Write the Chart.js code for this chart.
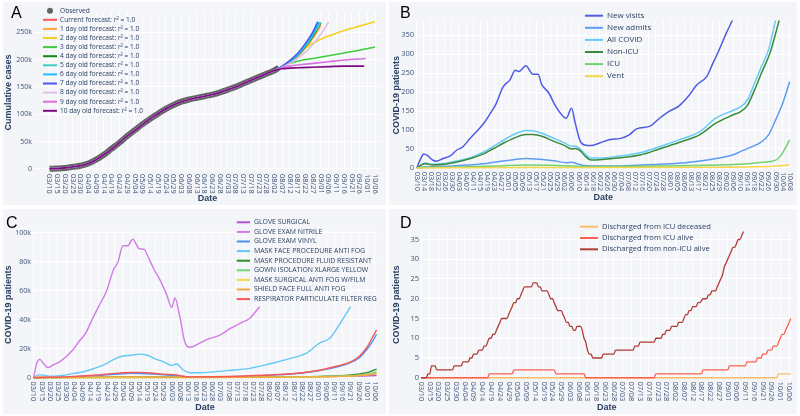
<!DOCTYPE html>
<html>
<head>
<meta charset="utf-8">
<script src="https://cdn.jsdelivr.net/npm/chart.js@4.4.1/dist/chart.umd.min.js"></script>
<style>
  body { margin: 0; width: 800px; height: 416px; background: #fff; position: relative; overflow: hidden; }
  .panel { position: absolute; background: #f3f5f9; }
  .panel canvas { position: absolute; left: 0; top: 0; }
  .tag { position: absolute; font: 16px/16px "Liberation Sans", Arial, sans-serif; color: #000; }
</style>
</head>
<body>
<div class="panel" style="left:3px;top:2px;width:383px;height:203px"><canvas id="chartA" width="383" height="203"></canvas></div>
<div class="panel" style="left:389px;top:2px;width:408px;height:203px"><canvas id="chartB" width="408" height="203"></canvas></div>
<div class="panel" style="left:3px;top:209px;width:383px;height:205px"><canvas id="chartC" width="383" height="205"></canvas></div>
<div class="panel" style="left:389px;top:209px;width:408px;height:205px"><canvas id="chartD" width="408" height="205"></canvas></div>
<div class="tag" style="left:11px;top:5px">A</div>
<div class="tag" style="left:400px;top:5px">B</div>
<div class="tag" style="left:6px;top:215px">C</div>
<div class="tag" style="left:400px;top:215px">D</div>

<script>
// x values are days counted from 03/10
const labels5 = ['03/10','03/15','03/20','03/25','03/30','04/04','04/09','04/14','04/19','04/24','04/29','05/04','05/09','05/14','05/19','05/24','05/29','06/03','06/08','06/13','06/18','06/23','06/28','07/03','07/08','07/13','07/18','07/23','07/28','08/02','08/07','08/12','08/17','08/22','08/27','09/01','09/06','09/11','09/16','09/21','09/26','10/01','10/06'];
const labels4 = ['03/10','03/14','03/18','03/22','03/26','03/30','04/03','04/07','04/11','04/15','04/19','04/23','04/27','05/01','05/05','05/09','05/13','05/17','05/21','05/25','05/29','06/02','06/06','06/10','06/14','06/18','06/22','06/26','06/30','07/04','07/08','07/12','07/16','07/20','07/24','07/28','08/01','08/05','08/09','08/13','08/17','08/21','08/25','08/29','09/02','09/06','09/10','09/14','09/18','09/22','09/26','09/30','10/04','10/08'];

// --- A: cumulative cases (thousands)
const observed = [[0,0.4],[5,1],[10,2],[15,4],[20,6],[25,10],[30,17],[35,26],[40,37],[45,48],[50,60],[55,71],[60,82],[65,92],[70,101],[75,110],[80,117],[85,123],[90,127],[95,130],[100,133],[105,136],[110,140],[115,145],[120,150],[125,156],[130,162],[135,168],[140,174],[145,180],[148,185]];
const fitBase = [[0,0.5],[5,1],[10,2],[15,4],[20,6],[25,10],[30,17],[35,26],[40,36],[45,48],[50,60],[55,70],[60,81],[65,92],[70,101],[75,110],[80,117],[85,123],[90,127],[95,130],[100,133],[105,136],[110,140],[115,145],[120,150],[125,156],[130,162],[135,168],[140,174],[145,180]];
const tailCurrent = [[150,187],[155,196],[160,207],[165,222],[170,241],[175,266]];
const tail1 = [[150,187],[155,195],[160,206],[165,220],[170,239],[175,262]];
const tail2 = [[150,187],[155,198],[160,210],[165,221],[170,230],[175,237],[180,243],[185,248],[190,253],[195,257],[200,261],[205,265],[210,269]];
const tail3 = [[150,186],[155,193],[160,197],[170,202],[180,207],[190,212],[200,217],[210,223]];
const tail4 = [[150,187],[155,196],[160,207],[165,223],[170,243],[175,267]];
const tail5 = [[150,187],[155,196],[160,208],[165,224],[170,245],[175,268]];
const tail6 = [[150,187],[155,197],[160,209],[165,226],[170,247],[174,269]];
const tail7 = [[150,188],[155,198],[160,211],[165,229],[170,251],[173,269]];
const tail8 = [[150,186],[155,193],[160,202],[165,213],[170,228],[175,246],[180,268]];
const tail9 = [[150,185],[155,188],[160,190],[170,193],[180,196],[190,199],[204,202]];
const tail10 = [[150,183],[160,185],[170,186],[180,187],[190,188],[203,188]];
const casesTicks = [0, 50, 100, 150, 200, 250];

// --- B: COVID-19 patients
const newVisits = [[0,0],[2,22],[4,37],[6,33],[9,21],[11,18],[15,25],[19,32],[23,48],[26,55],[30,76],[34,96],[38,117],[42,145],[45,168],[49,213],[53,232],[56,257],[58,254],[62,269],[66,247],[69,247],[71,220],[75,198],[79,162],[83,137],[85,131],[88,157],[90,120],[93,70],[96,60],[99,59],[104,66],[110,75],[116,78],[121,88],[125,103],[133,111],[138,131],[143,148],[149,163],[155,192],[159,218],[165,242],[168,272],[172,312],[176,355],[180,395],[182,420]];
const newAdmits = [[0,0],[5,3],[10,4],[20,5],[30,8],[38,11],[45,16],[55,22],[62,25],[70,23],[78,19],[85,14],[88,15],[90,13],[94,7],[100,5],[110,5],[125,7],[144,11],[155,15],[168,23],[180,35],[184,43],[190,55],[196,69],[200,87],[204,126],[208,170],[212,227]];
const allCovid = [[0,0],[3,10],[5,13],[9,10],[14,11],[20,16],[26,22],[32,30],[38,42],[44,58],[50,75],[56,90],[62,99],[66,98],[72,90],[78,78],[84,66],[88,57],[90,58],[93,50],[96,35],[99,26],[104,26],[116,32],[127,40],[138,56],[149,74],[161,96],[170,131],[180,152],[184,161],[188,179],[192,223],[196,267],[200,311],[204,388],[206,420]];
const nonIcu = [[0,0],[3,9],[5,11],[9,8],[14,9],[20,13],[26,19],[32,27],[38,37],[44,52],[50,67],[56,80],[62,88],[66,88],[72,82],[78,70],[84,59],[88,50],[90,51],[93,45],[96,30],[99,21],[104,22],[116,27],[127,34],[138,50],[149,67],[161,88],[170,118],[180,140],[184,148],[188,165],[192,205],[196,250],[201,305],[206,388],[208,420]];
const icu = [[0,0],[5,2],[15,2],[30,3],[45,5],[62,8],[75,7],[88,5],[95,4],[110,4],[140,5],[165,7],[180,9],[190,12],[197,15],[202,18],[205,23],[208,40],[212,74]];
const vent = [[0,0],[60,1],[100,1],[170,2],[195,3],[205,5],[212,8]];
const patientTicksB = [0, 50, 100, 150, 200, 250, 300, 350];

// --- C: supplies (thousands)
const gloveSurgical = [[0,0.2],[100,0.4],[180,0.8],[211,1.5]];
const gloveNitrile = [[0,0],[2,10],[4,12.7],[6,10],[9,7],[12,8.8],[16,11],[20,14.5],[24,19],[28,25],[32,30.6],[36,40],[40,49],[45,60],[49,74],[52,80],[55,91],[58,91],[61,95.6],[65,89],[68,88.5],[71,82],[74,75],[78,67],[82,57],[85,48.5],[87,55],[90,42],[93,25],[96,21],[102,23.7],[108,27],[114,29],[121,34],[127,37.5],[133,41],[139,49]];
const gloveVinyl = [[0,0],[10,0.3],[20,0.5],[30,1],[40,1.6],[50,2.4],[60,3],[70,2.8],[80,2],[90,1.3],[96,0.5],[110,0.6],[130,1],[150,2],[165,3.3],[175,4.8],[185,7],[195,10.5],[200,13.5],[205,19.5],[209,26],[211,30]];
const maskFace = [[0,0],[3,2],[6,1.8],[10,1],[15,1.2],[20,2],[25,3],[30,4],[35,5.5],[40,7.5],[45,10],[50,13],[55,15],[60,15.5],[65,16.3],[70,15.5],[75,13],[80,11],[85,8.5],[88,9.5],[92,5.5],[96,3.5],[102,3.5],[110,4],[120,5],[133,6.5],[145,9.5],[158,13.4],[168,17],[176,24],[182,27],[186,33],[190,40],[195,49]];
const maskFluid = [[0,0],[50,0.3],[100,0.3],[150,0.5],[180,1],[195,2],[205,3.5],[211,6]];
const gownXL = [[0,0],[60,0.2],[150,0.4],[190,1.2],[205,2.5],[211,4]];
const maskSurgical = [[0,0],[100,0.2],[180,0.6],[200,1.5],[211,2.8]];
const shieldFace = [[0,0.3],[60,0.5],[100,0.3],[150,0.4],[180,0.8],[200,1.5],[211,2.6]];
const respirator = [[0,0],[10,0.3],[20,0.6],[30,1.2],[40,2],[50,3],[60,3.6],[65,3.7],[70,3.5],[80,2.5],[88,2],[92,1],[96,0.6],[110,0.7],[130,1.2],[150,2.2],[165,3.5],[175,5],[185,7.6],[190,9],[195,11],[200,14.5],[205,21],[209,29],[211,33]];
const supplyTicks = [0, 20, 40, 60, 80, 100];

// --- D: discharges
const icuDeceased = [[0,0],[203,0],[204,1],[211,1]];
const icuAlive = [[0,0],[38,0],[39,1],[52,1],[53,2],[76,2],[77,1],[93,1],[94,0],[133,0],[134,1],[160,1],[161,2],[175,2],[176,3],[185,3],[186,4],[191,4],[192,5],[194,5],[195,6],[197,6],[198,7],[200,7],[201,8],[203,8],[204,9],[205,10],[206,11],[207,11],[208,12],[209,13],[210,14],[211,15]];
const nonIcuAlive = [[0,0],[3,0],[4,1],[5,1],[6,3],[8,3],[9,2],[18,2],[19,3],[23,3],[24,4],[27,4],[28,5],[29,5],[30,6],[32,6],[33,7],[35,7],[36,8],[37,8],[38,9],[39,10],[40,10],[41,11],[42,11],[43,12],[44,13],[45,14],[46,15],[49,15],[50,16],[51,17],[52,18],[53,19],[54,19],[55,20],[56,20],[57,21],[58,22],[59,23],[63,23],[64,24],[66,24],[67,23],[68,23],[69,22],[72,22],[73,21],[74,20],[75,20],[76,19],[77,18],[78,17],[80,17],[81,16],[82,15],[83,14],[84,14],[85,13],[86,13],[87,12],[88,12],[89,13],[91,13],[92,12],[93,10],[94,9],[95,7],[96,6],[97,6],[98,5],[103,5],[104,6],[110,6],[111,7],[121,7],[122,8],[124,8],[125,9],[133,9],[134,10],[137,10],[138,11],[139,11],[140,12],[142,12],[143,13],[146,13],[147,14],[149,14],[150,15],[151,16],[152,16],[153,17],[154,17],[155,18],[157,18],[158,19],[159,19],[161,20],[163,20],[164,21],[165,21],[166,22],[168,22],[169,23],[170,24],[171,25],[172,26],[173,28],[174,29],[175,30],[176,31],[177,32],[178,33],[179,33],[180,34],[181,35],[182,35],[183,36],[184,37]];
const dischargeTicks = [0, 5, 10, 15, 20, 25, 30, 35];

const titleColor = '#2a3f5f';
const tickColor = '#3f5375';
const fontFam = '"Open Sans", "Liberation Sans", sans-serif';

// rotated date labels (reading downward) + legend drawn inside the plot
const panelDecor = {
  id: 'panelDecor',
  afterDraw(chart, args, opts) {
    const ctx = chart.ctx;
    const area = chart.chartArea;
    const xs = chart.scales.x;
    ctx.save();
    ctx.fillStyle = tickColor;
    ctx.font = opts.tickFont;
    ctx.textAlign = 'left';
    ctx.textBaseline = 'middle';
    opts.labels.forEach((text, i) => {
      ctx.save();
      ctx.translate(xs.getPixelForValue(i * opts.step), area.bottom + 2);
      ctx.rotate(Math.PI / 2);
      ctx.fillText(text, 0, 0);
      ctx.restore();
    });

    const lg = opts.legend;
    ctx.font = lg.font;
    chart.data.datasets.forEach((ds, i) => {
      const y = lg.y + i * lg.step;
      if (ds.legendDot) {
        ctx.fillStyle = ds.borderColor;
        ctx.beginPath();
        ctx.arc(lg.x + lg.len / 2, y, 3, 0, Math.PI * 2);
        ctx.fill();
      } else {
        ctx.strokeStyle = ds.borderColor;
        ctx.lineWidth = 2;
        ctx.beginPath();
        ctx.moveTo(lg.x, y);
        ctx.lineTo(lg.x + lg.len, y);
        ctx.stroke();
      }
      ctx.fillStyle = titleColor;
      ctx.fillText(ds.label, lg.x + lg.len + lg.gap, y);
    });
    ctx.restore();
  }
};

function series(label, color, pts, width, extra) {
  return Object.assign({
    label: label,
    borderColor: color,
    backgroundColor: color,
    data: pts.map(p => ({ x: p[0], y: p[1] })),
    borderWidth: width,
    pointRadius: 0,
    fill: false,
    tension: 0.4,
    cubicInterpolationMode: 'monotone'
  }, extra || {});
}

function makeChart(id, cfg) {
  // later traces on top, like the original
  cfg.datasets.forEach((d, i) => { d.order = -i; });
  return new Chart(document.getElementById(id), {
    type: 'line',
    data: { datasets: cfg.datasets },
    options: {
      responsive: false,
      animation: false,
      events: [],
      layout: { padding: cfg.padding },
      plugins: {
        legend: { display: false },
        tooltip: { enabled: false },
        panelDecor: cfg.decor
      },
      scales: {
        x: {
          type: 'linear',
          min: cfg.xRange[0],
          max: cfg.xRange[1],
          grid: { color: '#ffffff', lineWidth: 1, drawTicks: false },
          border: { display: false },
          ticks: { display: false },
          afterBuildTicks: a => { a.ticks = cfg.decor.labels.map((_, i) => ({ value: i * cfg.decor.step })); },
          afterFit: a => { a.height = cfg.xHeight; },
          title: {
            display: true, text: 'Date', color: titleColor,
            font: { family: '"Liberation Sans", Arial, sans-serif', size: 9, weight: 'bold' },
            padding: { top: 0, bottom: cfg.xTitlePad }
          }
        },
        y: {
          min: cfg.yRange[0],
          max: cfg.yRange[1],
          grid: { color: '#ffffff', lineWidth: 1, drawTicks: false },
          border: { display: false },
          ticks: {
            color: tickColor,
            font: { family: fontFam, size: cfg.yTickSize },
            padding: cfg.yTickPad,
            callback: cfg.yFormat
          },
          afterBuildTicks: a => { a.ticks = cfg.yTicks.map(v => ({ value: v })); },
          afterFit: a => { a.width = cfg.yWidth; },
          title: {
            display: true, text: cfg.yTitle, color: titleColor,
            font: { family: '"Liberation Sans", Arial, sans-serif', size: 9, weight: 'bold' },
            padding: { top: cfg.yTitlePad, bottom: 0 }
          }
        }
      }
    },
    plugins: [panelDecor]
  });
}

const kFormat = v => (v === 0 ? '0' : v + 'k');
const plainFormat = v => String(v);

makeChart('chartA', {
  datasets: [
    series('Observed', 'rgba(75,75,75,0.85)', observed, 6, { legendDot: true }),
    series('Current forecast: r\u00b2 = 1.0', '#ff5757', fitBase.concat(tailCurrent), 1.6),
    series('1 day old forecast: r\u00b2 = 1.0', '#ffa53a', fitBase.concat(tail1), 1.6),
    series('2 day old forecast: r\u00b2 = 1.0', '#f7cf1d', fitBase.concat(tail2), 1.6),
    series('3 day old forecast: r\u00b2 = 1.0', '#3fcc3f', fitBase.concat(tail3), 1.6),
    series('4 day old forecast: r\u00b2 = 1.0', '#138a13', fitBase.concat(tail4), 1.6),
    series('5 day old forecast: r\u00b2 = 1.0', '#3ccfc0', fitBase.concat(tail5), 1.6),
    series('6 day old forecast: r\u00b2 = 1.0', '#1ec0ff', fitBase.concat(tail6), 1.6),
    series('7 day old forecast: r\u00b2 = 1.0', '#4e55f2', fitBase.concat(tail7), 1.6),
    series('8 day old forecast: r\u00b2 = 1.0', '#e3bde6', fitBase.concat(tail8), 1.6),
    series('9 day old forecast: r\u00b2 = 1.0', '#d870e0', fitBase.concat(tail9), 1.6),
    series('10 day old forecast: r\u00b2 = 1.0', '#7e0a80', fitBase.concat(tail10), 1.6)
  ],
  padding: { left: 0, right: 6, top: 11, bottom: 0 },
  xRange: [-9.4, 213.2], yRange: [-5.5, 285],
  xHeight: 33, yWidth: 32, yTickPad: 3, yTickSize: 7,
  xTitlePad: 0.6, yTitlePad: 0,
  yTicks: casesTicks, yFormat: kFormat, yTitle: 'Cumulative cases',
  decor: {
    labels: labels5, step: 5, tickFont: '7.4px ' + fontFam,
    legend: { x: 40, y: 8.7, step: 9.1, len: 14, gap: 3, font: '6.6px ' + fontFam }
  }
});

makeChart('chartB', {
  datasets: [
    series('New visits', '#4f5be3', newVisits, 1.5),
    series('New admits', '#5c9cf2', newAdmits, 1.5),
    series('All COVID', '#67cbf7', allCovid, 1.5),
    series('Non-ICU', '#3a8a3a', nonIcu, 1.5),
    series('ICU', '#72d272', icu, 1.5),
    series('Vent', '#f7d548', vent, 1.5)
  ],
  padding: { left: 0, right: 5.6, top: 18.6, bottom: 0 },
  xRange: [-1, 213], yRange: [-5.3, 388],
  xHeight: 35, yWidth: 26, yTickPad: 1, yTickSize: 7.5,
  xTitlePad: 1.6, yTitlePad: 2.6,
  yTicks: patientTicksB, yFormat: plainFormat, yTitle: 'COVID-19 patients',
  decor: {
    labels: labels4, step: 4, tickFont: '7.2px ' + fontFam,
    legend: { x: 196, y: 13.7, step: 12.1, len: 18, gap: 4, font: '8px ' + fontFam }
  }
});

makeChart('chartC', {
  datasets: [
    series('GLOVE SURGICAL', '#b452cf', gloveSurgical, 1.4),
    series('GLOVE EXAM NITRILE', '#d47ae6', gloveNitrile, 1.4),
    series('GLOVE EXAM VINYL', '#4f8ff0', gloveVinyl, 1.4),
    series('MASK FACE PROCEDURE ANTI FOG', '#62c9f6', maskFace, 1.4),
    series('MASK PROCEDURE FLUID RESISTANT', '#2c8c2c', maskFluid, 1.4),
    series('GOWN ISOLATION XLARGE YELLOW', '#78d478', gownXL, 1.4),
    series('MASK SURGICAL ANTI FOG W/FILM', '#f7d64a', maskSurgical, 1.4),
    series('SHIELD FACE FULL ANTI FOG', '#f5a840', shieldFace, 1.4),
    series('RESPIRATOR PARTICULATE FILTER REG', '#f65858', respirator, 1.4)
  ],
  padding: { left: 0, right: 8.6, top: 20.8, bottom: 0 },
  xRange: [-0.5, 211.5], yRange: [-1.2, 102],
  xHeight: 34.5, yWidth: 29.7, yTickPad: 1.7, yTickSize: 7,
  xTitlePad: 0.6, yTitlePad: 0,
  yTicks: supplyTicks, yFormat: kFormat, yTitle: 'COVID-19 patients',
  decor: {
    labels: labels5, step: 5, tickFont: '7.4px ' + fontFam,
    legend: { x: 233.7, y: 13.3, step: 9.6, len: 13.3, gap: 4, font: '6.9px ' + fontFam }
  }
});

makeChart('chartD', {
  datasets: [
    series('Discharged from ICU deceased', '#fcbd6a', icuDeceased, 1.3, { tension: 0 }),
    series('Discharged from ICU alive', '#ff5f4f', icuAlive, 1.3, { tension: 0 }),
    series('Discharged from non-ICU alive', '#b03b36', nonIcuAlive, 1.3, { tension: 0 })
  ],
  padding: { left: 0, right: 4.4, top: 20.6, bottom: 0 },
  xRange: [0, 212], yRange: [-0.5, 37.5],
  xHeight: 34.3, yWidth: 32, yTickPad: 2, yTickSize: 7.5,
  xTitlePad: 0.6, yTitlePad: 2.6,
  yTicks: dischargeTicks, yFormat: plainFormat, yTitle: 'COVID-19 patients',
  decor: {
    labels: labels5, step: 5, tickFont: '7.4px ' + fontFam,
    legend: { x: 191, y: 17.7, step: 11.3, len: 18, gap: 4, font: '7.6px ' + fontFam }
  }
});
</script>
</body>
</html>
